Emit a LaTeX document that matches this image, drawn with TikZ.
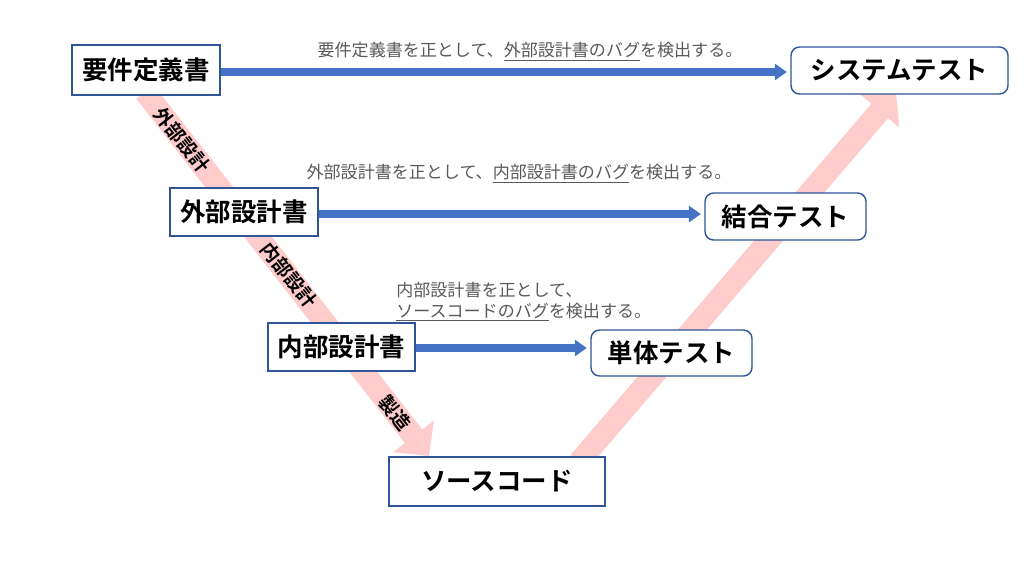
\documentclass[tikz,border=0pt]{standalone}
\usepackage{fontspec}
\setmainfont{Noto Sans CJK JP}[BoldFont={Noto Sans CJK JP Bold}]
\usetikzlibrary{arrows.meta}
\definecolor{boxblue}{HTML}{2F5597}
\definecolor{arrowblue}{HTML}{4472C4}
\definecolor{bandpink}{HTML}{FFCCCC}
\definecolor{notegray}{HTML}{595959}
\tikzset{
  docbox/.style={draw=boxblue, line width=0.8pt, fill=white, inner sep=0pt,
    font=\fontsize{14.5pt}{16pt}\selectfont\bfseries},
  testbox/.style={docbox, rounded corners=0.17cm},
  bluearrow/.style={draw=arrowblue, line width=0.16cm,
    -{Triangle[length=0.24cm,width=0.32cm]}, shorten >=0.07cm},
  pinkband/.style={draw=bandpink, line width=0.44cm,
    -{Triangle[length=0.5cm,width=1.0cm]}},
  bandlabel/.style={font=\fontsize{10.8pt}{12pt}\selectfont\bfseries, inner sep=0pt},
  note/.style={text=notegray, font=\fontsize{9.7pt}{11.8pt}\selectfont, inner sep=0pt, align=left}
}
\begin{document}
\begin{tikzpicture}[x=0.02cm, y=-0.02cm]
\useasboundingbox[fill=white] (0,0) rectangle (1024,576);

% pink bands (drawn first so boxes cover their ends)
\coordinate (d1) at (145,92);
\coordinate (d2) at (429,456);
\coordinate (u1) at (579,462);
\coordinate (u2) at (896,92);
\draw[pinkband] (d1) -- (d2);
\draw[pinkband] (u1) -- (u2);

% labels on the downward band
\node[bandlabel, rotate=-52] (lb1) at (182,140) {外部設計};
\node[bandlabel, rotate=-52] (lb2) at (289,275) {内部設計};
\node[bandlabel, rotate=-52] (lb3) at (395,413) {製造};

% document boxes
\node[docbox, minimum width=2.96cm, minimum height=1.0cm] (req) at (146,70) {要件定義書};
\node[docbox, minimum width=2.96cm, minimum height=0.96cm] (ext) at (244,212) {外部設計書};
\node[docbox, minimum width=2.94cm, minimum height=0.96cm] (int) at (341.5,347) {内部設計書};
\node[docbox, minimum width=4.32cm, minimum height=0.98cm] (src) at (497,481.5) {ソースコード};

% test boxes
\node[testbox, minimum width=4.34cm, minimum height=0.94cm] (st) at (899.5,70.5) {システムテスト};
\node[testbox, minimum width=3.22cm, minimum height=0.94cm] (it) at (785.5,216.5) {結合テスト};
\node[testbox, minimum width=3.22cm, minimum height=0.92cm] (ut) at (671.5,353) {単体テスト};

% blue arrows
\draw[bluearrow] ([yshift=-0.04cm]req.east) -- ([yshift=-0.04cm]req.east -| st.west);
\draw[bluearrow] ([yshift=-0.04cm]ext.east) -- ([yshift=-0.04cm]ext.east -| it.west);
\draw[bluearrow] ([yshift=-0.02cm]int.east) -- ([yshift=-0.02cm]int.east -| ut.west);

% notes
\node[note] (n1) at (530,52) {要件定義書を正として、\underline{外部設計書のバグ}を検出する。};
\node[note] (n2) at (519,174) {外部設計書を正として、\underline{内部設計書のバグ}を検出する。};
\node[note, anchor=west] (n3) at (396,302) {内部設計書を正として、\\\underline{ソースコードのバグ}を検出する。};
\end{tikzpicture}
\end{document}
